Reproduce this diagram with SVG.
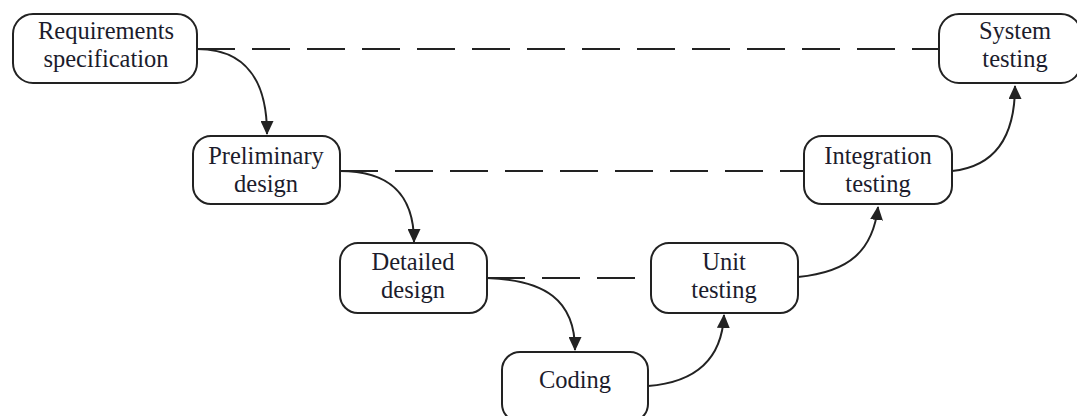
<svg xmlns="http://www.w3.org/2000/svg" width="1077" height="416" viewBox="0 0 1077 416">
<style>
.box{fill:#fff;stroke:#222;stroke-width:2}
.t{font-family:"Liberation Serif","Times New Roman",serif;font-size:24.5px;fill:#1c1c2c;text-anchor:middle}
.dash{fill:none;stroke:#222;stroke-width:2.2;stroke-dasharray:38 17}
.arr{fill:none;stroke:#222;stroke-width:2;marker-end:url(#ah)}
</style>
<defs>
<marker id="ah" viewBox="0 0 14 13" refX="13" refY="6.5" markerWidth="14" markerHeight="13" markerUnits="userSpaceOnUse" orient="auto">
<path d="M0,0 L14,6.5 L0,13 Z" fill="#222"/>
</marker>
</defs>
<rect width="1077" height="416" fill="#fff"/>
<g id="connectors">
<path class="dash" d="M197,49 H939"/>
<path class="dash" d="M340,171 H804"/>
<path class="dash" d="M487,278 H651"/>
<path class="arr" d="M197,49 C245,49 267,80 267,134"/>
<path class="arr" d="M340,171 C385,171 414,190 414,242"/>
<path class="arr" d="M487,278 C545,280 575,300 575,350"/>
<path class="arr" d="M648,386 C700,382 722,355 724,315"/>
<path class="arr" d="M798,277 C850,272 873,250 878,207"/>
<path class="arr" d="M952,171 C1000,166 1015,130 1015,86"/>
</g>
<g id="req">
<rect class="box" x="13" y="14" width="184" height="69" rx="20"/>
<text class="t" x="106" y="39">Requirements</text>
<text class="t" x="106" y="67">specification</text>
</g>
<g id="prelim">
<rect class="box" x="193" y="136" width="147" height="68" rx="18"/>
<text class="t" x="266" y="164">Preliminary</text>
<text class="t" x="266" y="192">design</text>
</g>
<g id="detailed">
<rect class="box" x="340" y="243" width="147" height="70" rx="18"/>
<text class="t" x="413" y="270">Detailed</text>
<text class="t" x="413" y="298">design</text>
</g>
<g id="coding">
<rect class="box" x="502" y="352" width="146" height="70" rx="18"/>
<text class="t" x="575" y="388">Coding</text>
</g>
<g id="unit">
<rect class="box" x="651" y="243" width="147" height="70" rx="18"/>
<text class="t" x="724" y="270">Unit</text>
<text class="t" x="724" y="298">testing</text>
</g>
<g id="integration">
<rect class="box" x="804" y="136" width="148" height="68" rx="18"/>
<text class="t" x="878" y="164">Integration</text>
<text class="t" x="878" y="192">testing</text>
</g>
<g id="system">
<rect class="box" x="939" y="14" width="142" height="69" rx="20"/>
<text class="t" x="1015" y="39">System</text>
<text class="t" x="1015" y="67">testing</text>
</g>
</svg>
